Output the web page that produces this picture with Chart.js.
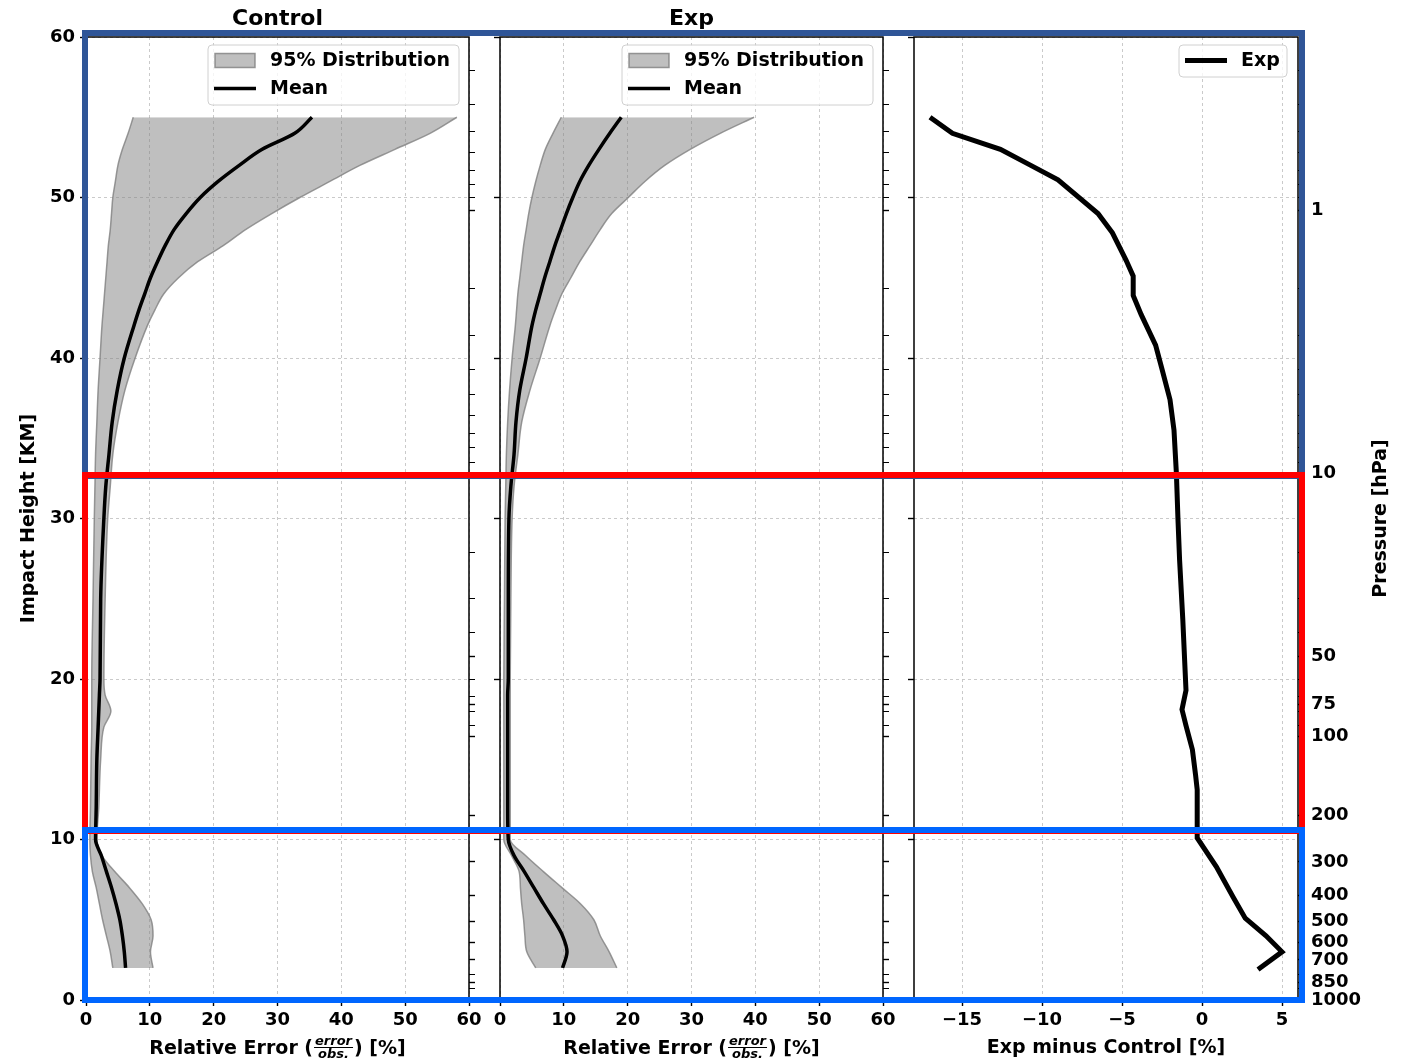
<!DOCTYPE html>
<html>

<head>
    <script src="https://cdn.jsdelivr.net/npm/chart.js@4.4.0/dist/chart.umd.min.js"></script>
</head>

<style>
    body {
        margin: 0;
        background: #fff;
    }

    #fig {
        position: relative;
        width: 1407px;
        height: 1063px;
        overflow: hidden;
    }

    #fig canvas {
        position: absolute;
        top: 0;
    }

    .zone {
        position: absolute;
        box-sizing: border-box;
        border: 6px solid;
        left: 82px;
        width: 1223px;
    }
</style>

<body>
    <div id="fig">
        <canvas id="ctrl" width="486" height="1063" style="left:0px"></canvas>
        <canvas id="exp" width="414" height="1063" style="left:486px"></canvas>
        <canvas id="diff" width="507" height="1063" style="left:900px"></canvas>
        <!-- highlight boxes drawn over the figure -->
        <div class="zone" style="top:30px;height:449px;border-color:#2f5597"></div>
        <div class="zone" style="top:472px;height:362px;border-color:#ff0000"></div>
        <div class="zone" style="top:827px;height:176px;border-color:#0066ff"></div>
    </div>
</body>

<script>
    // impact heights [km] where the profiles were read
    var heights = [2, 3, 4, 5, 6, 7, 8, 9, 10, 12, 15, 17, 18, 19, 20, 25, 30, 32, 34, 36, 38, 40, 42, 43, 44, 45, 46, 47, 48, 49, 50, 51, 52, 53, 54, 55];

    // Control: relative error [%]
    var ctrlMean = [6.2, 6.0, 5.7, 5.3, 4.7, 4.0, 3.2, 2.4, 1.5, 1.6, 1.7, 1.9, 2.0, 2.1, 2.2, 2.3, 2.8, 3.1, 3.6, 4.1, 4.9, 6.0, 7.5, 8.3, 9.2, 10.1, 11.2, 12.4, 13.8, 15.7, 17.9, 20.7, 24.0, 27.6, 32.7, 35.4];
    var ctrlLow = [4.2, 3.8, 3.2, 2.6, 2.1, 1.6, 1.0, 0.7, 0.6, 0.7, 0.8, 0.9, 0.9, 0.9, 0.9, 1.1, 1.3, 1.4, 1.5, 1.7, 1.9, 2.2, 2.5, 2.7, 2.9, 3.1, 3.3, 3.5, 3.8, 4.0, 4.2, 4.6, 5.0, 5.7, 6.6, 7.4];
    var ctrlHigh = [10.5, 10.1, 10.5, 10.2, 8.8, 6.8, 4.5, 2.5, 1.7, 2.0, 2.3, 2.8, 3.9, 3.0, 2.8, 3.0, 3.4, 3.8, 4.2, 5.0, 6.1, 7.7, 9.6, 10.8, 12.2, 14.5, 17.5, 21.5, 25.0, 29.1, 33.5, 38.2, 42.9, 48.4, 53.9, 58.1];

    // Exp: relative error [%]
    var expMean = [9.8, 10.5, 9.8, 8.4, 6.8, 5.3, 3.8, 2.2, 1.3, 1.2, 1.2, 1.2, 1.2, 1.2, 1.3, 1.3, 1.4, 1.7, 2.2, 2.5, 3.1, 4.1, 5.0, 5.6, 6.3, 7.0, 7.8, 8.6, 9.5, 10.4, 11.4, 12.5, 13.9, 15.5, 17.2, 19.0];
    var expLow = [5.6, 4.2, 3.9, 3.7, 3.4, 3.2, 3.0, 1.8, 0.6, 0.6, 0.6, 0.6, 0.6, 0.6, 0.6, 0.7, 0.8, 0.9, 1.0, 1.2, 1.5, 1.9, 2.4, 2.6, 2.8, 3.1, 3.4, 3.7, 4.1, 4.5, 5.0, 5.6, 6.3, 7.1, 8.3, 9.6];
    var expHigh = [18.3, 17.1, 15.7, 14.7, 12.6, 9.7, 6.8, 4.0, 1.6, 1.6, 1.6, 1.6, 1.6, 1.6, 1.6, 1.7, 1.9, 2.2, 2.8, 3.4, 4.7, 6.3, 7.8, 8.7, 9.7, 11.1, 12.5, 14.1, 15.7, 17.5, 20.1, 22.7, 25.8, 29.8, 34.5, 39.8];

    // Exp minus Control [%]
    var diffHeights = [1.9, 3.0, 4.0, 5.1, 6.4, 8.3, 10.1, 13.1, 14.0, 15.6, 17.1, 18.1, 19.3, 23.7, 27.4, 29.9, 32.8, 35.5, 37.4, 39.3, 40.8, 42.7, 43.9, 45.1, 46.1, 47.8, 49.0, 51.1, 52.0, 53.0, 54.0, 55.0];
    var diffValues = [3.5, 5.0, 4.0, 2.7, 1.95, 0.9, -0.3, -0.3, -0.4, -0.6, -1.0, -1.25, -1.0, -1.2, -1.4, -1.5, -1.6, -1.75, -2.0, -2.5, -2.9, -3.8, -4.3, -4.3, -4.75, -5.6, -6.5, -9.0, -10.7, -12.6, -15.6, -17.0];

    // ticks
    var heightTicks = [0, 10, 20, 30, 40, 50, 60];
    var errorTicks = [0, 10, 20, 30, 40, 50, 60];
    var diffTicks = [-15, -10, -5, 0, 5];
    var pressureHeights = [57.9, 55.8, 54.1, 52.8, 51.7, 50.8, 50.0, 49.2, 44.3, 41.4, 39.3, 37.7, 36.4, 35.3, 34.4, 33.5, 32.8, 27.9, 25.0, 22.9, 21.4, 20.0, 18.9, 18.4, 18.0, 17.1, 16.4, 11.5, 8.6, 6.5, 4.9, 3.6, 2.5, 1.56, 1.1, 0.73, 0];
    var pressureLabels = ['', '', '', '', '', '', '', '1', '', '', '', '', '', '', '', '', '10', '', '', '', '50', '', '', '75', '', '', '100', '200', '300', '400', '500', '600', '700', '', '850', '', '1000'];

    Chart.defaults.font.family = '"DejaVu Sans", sans-serif';
    Chart.defaults.font.weight = 'bold';
    Chart.defaults.font.size = 18;
    Chart.defaults.color = '#000';

    var FONT = '"DejaVu Sans", sans-serif';

    function points(xs, ys) {
        return xs.map(function (v, i) { return { x: v, y: ys[i] }; });
    }

    function minus(v) {
        return v < 0 ? '\u2212' + (-v) : String(v);
    }

    function gridOpts(onArea) {
        return {
            display: true,
            drawOnChartArea: onArea,
            color: '#c4c4c4',
            lineWidth: 0.9,
            tickColor: '#000',
            tickLength: 6,
            tickWidth: 1.4,
            tickBorderDash: []
        };
    }

    function buildScales(o) {
        var pGrid = gridOpts(false);
        pGrid.tickWidth = function (c) { return pressureLabels[c.index] ? 1.4 : 1; };
        return {
            x: {
                type: 'linear', min: o.xmin, max: o.xmax,
                afterBuildTicks: function (s) { s.ticks = o.xticks.map(function (v) { return { value: v }; }); },
                ticks: { padding: 4, callback: minus },
                grid: gridOpts(true),
                border: { display: false, dash: [3, 3] },
                afterFit: function (s) { s.height = 63; }
            },
            y: {
                type: 'linear', position: 'left', min: 0, max: 60,
                afterBuildTicks: function (s) { s.ticks = heightTicks.map(function (v) { return { value: v }; }); },
                ticks: { display: o.leftLabels, padding: 5 },
                grid: gridOpts(true),
                border: { display: false, dash: [3, 3] },
                afterFit: function (s) { s.width = o.leftW; }
            },
            p: {
                type: 'linear', position: 'right', min: 0, max: 60,
                afterBuildTicks: function (s) { s.ticks = pressureHeights.map(function (v) { return { value: v }; }); },
                ticks: { display: o.rightLabels, autoSkip: false, padding: 7, callback: function (v, i) { return pressureLabels[i]; } },
                grid: pGrid,
                border: { display: false },
                afterFit: function (s) { s.width = o.rightW; }
            }
        };
    }

    // black frame round each axes box
    var spines = {
        id: 'spines',
        afterDatasetsDraw: function (chart) {
            var a = chart.chartArea, ctx = chart.ctx;
            ctx.save();
            ctx.strokeStyle = '#000';
            ctx.lineWidth = 1.5;
            ctx.strokeRect(a.left, a.top, a.right - a.left, a.bottom - a.top);
            ctx.restore();
        }
    };

    function roundRect(ctx, x, y, w, h, r) {
        ctx.beginPath();
        ctx.moveTo(x + r, y);
        ctx.arcTo(x + w, y, x + w, y + h, r);
        ctx.arcTo(x + w, y + h, x, y + h, r);
        ctx.arcTo(x, y + h, x, y, r);
        ctx.arcTo(x, y, x + w, y, r);
        ctx.closePath();
    }

    function drawFracLabel(ctx, cx, base) {
        var big = 'bold 19px ' + FONT, small = 'italic bold 13px ' + FONT;
        var left = 'Relative Error (', right = ') [%]';
        ctx.font = big;
        var w1 = ctx.measureText(left).width, w3 = ctx.measureText(right).width;
        ctx.font = small;
        var w2 = Math.max(ctx.measureText('error').width, ctx.measureText('obs.').width) + 4;
        var x = cx - (w1 + w2 + w3) / 2;
        ctx.textAlign = 'left';
        ctx.font = big;
        ctx.fillText(left, x, base);
        x += w1;
        ctx.font = small;
        ctx.textAlign = 'center';
        ctx.fillText('error', x + w2 / 2, base - 9);
        ctx.fillText('obs.', x + w2 / 2, base + 4);
        ctx.fillRect(x + 1, base - 7, w2 - 2, 1);
        x += w2;
        ctx.font = big;
        ctx.textAlign = 'left';
        ctx.fillText(right, x, base);
    }

    // titles, axis labels and the boxed legend
    var figText = {
        id: 'figText',
        afterDraw: function (chart, args, o) {
            var ctx = chart.ctx, a = chart.chartArea, cx = (a.left + a.right) / 2;
            ctx.save();
            ctx.fillStyle = '#000';
            ctx.textBaseline = 'alphabetic';
            ctx.textAlign = 'center';
            if (o.title) {
                ctx.font = 'bold 22px ' + FONT;
                ctx.fillText(o.title, cx, 25);
            }
            if (o.xlabel === 'frac') {
                drawFracLabel(ctx, cx, 1054);
            } else if (o.xlabel) {
                ctx.font = 'bold 19px ' + FONT;
                ctx.fillText(o.xlabel, cx, 1053);
            }
            var vl = [o.ylabel, o.rlabel];
            for (var k = 0; k < vl.length; k++) {
                if (!vl[k]) continue;
                ctx.save();
                ctx.translate(vl[k].x, (a.top + a.bottom) / 2);
                ctx.rotate(-Math.PI / 2);
                ctx.font = 'bold 19px ' + FONT;
                ctx.textAlign = 'center';
                ctx.fillText(vl[k].text, 0, 0);
                ctx.restore();
            }

            // legend
            var lg = o.legend;
            var items = chart.data.datasets.filter(function (d) { return d.label; });
            var h = 32 + 28 * (items.length - 1);
            var x0 = a.right - lg.right - lg.width, y0 = a.top + 8;
            roundRect(ctx, x0, y0, lg.width, h, 4);
            ctx.fillStyle = 'rgba(255,255,255,0.8)';
            ctx.fill();
            ctx.strokeStyle = '#d0d0d0';
            ctx.lineWidth = 1;
            ctx.stroke();
            ctx.font = 'bold 19px ' + FONT;
            ctx.textAlign = 'left';
            ctx.textBaseline = 'middle';
            items.forEach(function (d, i) {
                var yc = y0 + 15.5 + 28 * i;
                if (d.fill) {
                    ctx.fillStyle = d.backgroundColor;
                    ctx.fillRect(x0 + 7, yc - 7, 40, 14);
                    ctx.strokeStyle = d.borderColor;
                    ctx.lineWidth = 1.5;
                    ctx.strokeRect(x0 + 7, yc - 7, 40, 14);
                } else {
                    ctx.strokeStyle = d.borderColor;
                    ctx.lineWidth = d.borderWidth;
                    ctx.beginPath();
                    ctx.moveTo(x0 + 6, yc);
                    ctx.lineTo(x0 + 48, yc);
                    ctx.stroke();
                }
                ctx.fillStyle = '#000';
                ctx.fillText(d.label, x0 + 62, yc + 1);
            });
            ctx.restore();
        }
    };

    function profileDatasets(low, high, mean) {
        var smooth = { pointRadius: 0, cubicInterpolationMode: 'monotone' };
        return [
            Object.assign({ data: points(low, heights), borderColor: 'rgba(128,128,128,0.8)', borderWidth: 1.5, fill: false, order: 1 }, smooth),
            Object.assign({ label: '95% Distribution', data: points(high, heights), borderColor: 'rgba(128,128,128,0.8)', backgroundColor: 'rgba(128,128,128,0.5)', borderWidth: 1.5, fill: '-1', order: 1 }, smooth),
            Object.assign({ label: 'Mean', data: points(mean, heights), borderColor: '#000', borderWidth: 3.5, fill: false, order: 0 }, smooth)
        ];
    }

    function makeChart(id, datasets, scaleOpts, textOpts) {
        return new Chart(document.getElementById(id), {
            type: 'line',
            data: { datasets: datasets },
            options: {
                responsive: false,
                animation: false,
                devicePixelRatio: 1,
                indexAxis: 'y',
                layout: { padding: { top: 37, left: 0, right: 0, bottom: 0 } },
                scales: buildScales(scaleOpts),
                plugins: {
                    legend: { display: false },
                    tooltip: { enabled: false },
                    figText: textOpts
                }
            },
            plugins: [spines, figText]
        });
    }

    makeChart('ctrl', profileDatasets(ctrlLow, ctrlHigh, ctrlMean),
        { xmin: 0, xmax: 60, xticks: errorTicks, leftW: 86, rightW: 17, leftLabels: true, rightLabels: false },
        { title: 'Control', xlabel: 'frac', ylabel: { text: 'Impact Height [KM]', x: 34 }, legend: { width: 251, right: 10 } });

    makeChart('exp', profileDatasets(expLow, expHigh, expMean),
        { xmin: 0, xmax: 60, xticks: errorTicks, leftW: 14, rightW: 17, leftLabels: false, rightLabels: false },
        { title: 'Exp', xlabel: 'frac', legend: { width: 251, right: 10 } });

    makeChart('diff', [
        { label: 'Exp', data: points(diffValues, diffHeights), borderColor: '#000', borderWidth: 5, pointRadius: 0, fill: false }
    ],
        { xmin: -18, xmax: 6, xticks: diffTicks, leftW: 14, rightW: 109, leftLabels: false, rightLabels: true },
        { xlabel: 'Exp minus Control [%]', rlabel: { text: 'Pressure [hPa]', x: 486 }, legend: { width: 108, right: 11 } });
</script>

</html>
